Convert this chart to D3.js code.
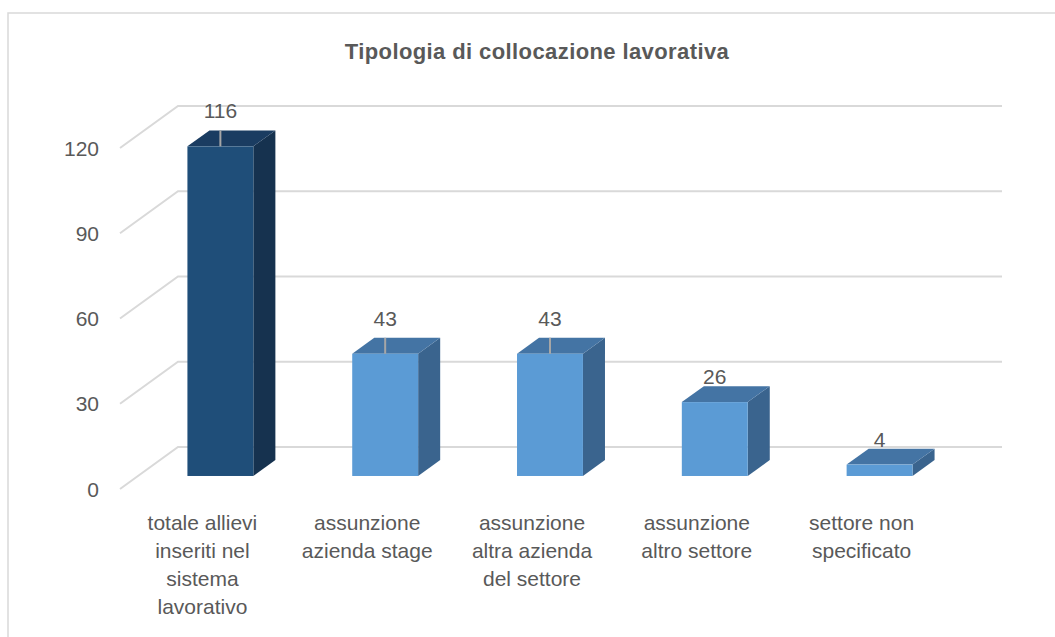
<html>
<head>
    <title>Tipologia di collocazione lavorativa</title>
    <script src="https://cdnjs.cloudflare.com/ajax/libs/d3/7.8.5/d3.min.js"></script>
    <style>
        body { margin: 0; background: #fff; }
        text { font-family: "Liberation Sans", Arial, sans-serif; fill: #595959; }
        .title { font-size: 22px; font-weight: bold; letter-spacing: 0.4px; }
        .tick-label, .value-label { font-size: 21px; }
        .cat-label { font-size: 21px; }
    </style>
</head>
<body>
<div id="chart"></div>
<script>
    // data
    var categories = [
        "totale allievi inseriti nel sistema lavorativo",
        "assunzione azienda stage",
        "assunzione altra azienda del settore",
        "assunzione altro settore",
        "settore non specificato"
    ];
    var catLines = [
        ["totale allievi", "inseriti nel", "sistema", "lavorativo"],
        ["assunzione", "azienda stage"],
        ["assunzione", "altra azienda", "del settore"],
        ["assunzione", "altro settore"],
        ["settore non", "specificato"]
    ];
    var values = [116, 43, 43, 26, 4];
    var yTicks = [0, 30, 60, 90, 120];
    var showLeader = [true, true, true, false, false];

    var W = 1055, H = 637;
    // 3d projection: moving from floor front to back wall
    var wallDx = 58, wallDy = -42;
    var d0 = 0.31, d1 = 0.69; // bar depth, front and back

    var svg = d3.select("#chart").append("svg")
        .attr("width", W).attr("height", H);

    // chart frame (cut off on right and bottom)
    svg.append("rect")
        .attr("x", 8).attr("y", 13)
        .attr("width", W + 20).attr("height", H + 20)
        .attr("fill", "none").attr("stroke", "#d9d9d9").attr("stroke-width", 1.5);

    svg.append("text").attr("class", "title")
        .attr("x", 537).attr("y", 59)
        .attr("text-anchor", "middle")
        .text("Tipologia di collocazione lavorativa");

    var x = d3.scaleBand().domain(categories).range([120, 944])
        .paddingInner(0.6).paddingOuter(0.3);
    var y = d3.scaleLinear().domain([0, 120]).range([489, 148]);

    // gridlines: diagonal on the side plus back wall line
    svg.selectAll(".grid").data(yTicks).enter().append("polyline")
        .attr("class", "grid")
        .attr("fill", "none").attr("stroke", "#d9d9d9").attr("stroke-width", 2)
        .attr("points", function(d) {
            var yf = y(d);
            return [[120, yf], [120 + wallDx, yf + wallDy], [1002, yf + wallDy]].join(" ");
        });

    svg.selectAll(".tick-label").data(yTicks).enter().append("text")
        .attr("class", "tick-label")
        .attr("x", 99).attr("y", function(d) { return y(d); })
        .attr("dy", "0.36em")
        .attr("text-anchor", "end")
        .text(function(d) { return d; });

    var bw = x.bandwidth();
    var dx = wallDx * (d1 - d0), dy = wallDy * (d1 - d0);

    var bars = svg.selectAll(".bar").data(values).enter().append("g").attr("class", "bar");

    function geom(v, i) {
        var x0 = x(categories[i]) + wallDx * d0;
        var top = y(v) + wallDy * d0;
        var bot = y(0) + wallDy * d0;
        return { x0: x0, x1: x0 + bw, cx: x0 + bw / 2, top: top, bot: bot };
    }
    function fills(i) {
        return i === 0 ? ["#1f4e79", "#1a3c61", "#16324f"] : ["#5b9bd5", "#4474a4", "#3a648e"];
    }

    // side face
    bars.append("polygon")
        .attr("fill", function(d, i) { return fills(i)[2]; })
        .attr("points", function(d, i) {
            var g = geom(d, i);
            return [[g.x1, g.top], [g.x1 + dx, g.top + dy], [g.x1 + dx, g.bot + dy], [g.x1, g.bot]].join(" ");
        });
    // top face
    bars.append("polygon")
        .attr("fill", function(d, i) { return fills(i)[1]; })
        .attr("points", function(d, i) {
            var g = geom(d, i);
            return [[g.x0, g.top], [g.x1, g.top], [g.x1 + dx, g.top + dy], [g.x0 + dx, g.top + dy]].join(" ");
        });
    // front face
    bars.append("rect")
        .attr("fill", function(d, i) { return fills(i)[0]; })
        .attr("x", function(d, i) { return geom(d, i).x0; })
        .attr("y", function(d, i) { return geom(d, i).top; })
        .attr("width", bw)
        .attr("height", function(d, i) { var g = geom(d, i); return g.bot - g.top; });

    // leader lines for labels sitting on the top face
    bars.each(function(d, i) {
        if (!showLeader[i]) return;
        var g = geom(d, i);
        d3.select(this).append("line")
            .attr("stroke", "#a6a6a6").attr("stroke-width", 2)
            .attr("x1", g.cx).attr("x2", g.cx)
            .attr("y1", g.top).attr("y2", g.top + dy);
    });

    bars.append("text").attr("class", "value-label")
        .attr("text-anchor", "middle")
        .attr("x", function(d, i) { return geom(d, i).cx; })
        .attr("y", function(d, i) {
            var g = geom(d, i);
            return g.top + dy - (showLeader[i] ? 12 : 2);
        })
        .text(function(d) { return d; });

    // category labels, centred on the floor front
    var cats = svg.selectAll(".cat").data(categories).enter().append("text")
        .attr("class", "cat-label")
        .attr("text-anchor", "middle")
        .attr("transform", function(d) {
            return "translate(" + (x(d) + bw / 2) + ",530)";
        });
    cats.selectAll("tspan").data(function(d, i) { return catLines[i]; }).enter().append("tspan")
        .attr("x", 0)
        .attr("y", function(d, j) { return j * 28; })
        .text(function(d) { return d; });
</script>
</body>
</html>
